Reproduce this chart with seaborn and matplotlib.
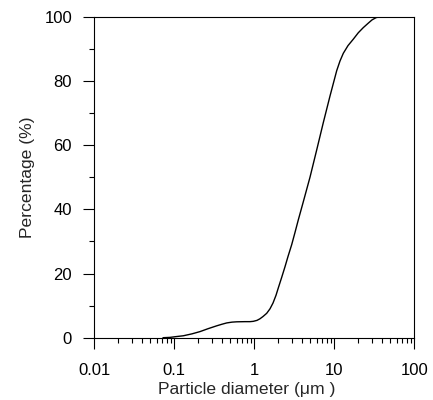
import matplotlib
matplotlib.use("Agg")
import matplotlib.pyplot as plt
import matplotlib.ticker as mticker
import seaborn as sns
import pandas as pd

diameter_um = [0.0722, 0.0884, 0.1020, 0.1296, 0.1664,
               0.2096, 0.2638, 0.3388, 0.3948, 0.4519,
               0.5263, 0.6026, 0.7650, 0.8837, 0.9716,
               1.081, 1.178, 1.285, 1.429, 1.571,
               1.713, 1.867, 1.995, 2.200, 2.419,
               2.638, 2.935, 3.227, 3.548, 4.062,
               4.969, 6.026, 7.286, 8.838, 10.72,
               11.78, 12.96, 14.84, 17.28, 19.95,
               23.04, 26.61, 29.60, 33.21, 37.26,
               46.91]
percentage = [0.0, 0.1, 0.3, 0.6, 1.2,
              1.9, 2.8, 3.7, 4.2, 4.6,
              4.85, 4.95, 5.0, 5.0, 5.1,
              5.4, 5.9, 6.6, 7.6, 9.0,
              10.8, 13.2, 15.5, 18.8, 22.1,
              25.3, 29.0, 32.8, 36.7, 42.0,
              50.0, 58.5, 67.0, 75.3, 83.2,
              86.2, 88.6, 91.0, 93.0, 95.0,
              96.6, 98.0, 99.0, 99.7, 100.0,
              100.0]

x_major_ticks = [0.01, 0.1, 1, 10, 100]
x_tick_labels = ["0.01", "0.1", "1", "10", "100"]
y_major_ticks = [0, 20, 40, 60, 80, 100]
y_minor_ticks = [10, 30, 50, 70, 90]

sns.set_style("ticks")
plt.rcParams["font.family"] = ["Liberation Sans", "DejaVu Sans"]

df = pd.DataFrame({"d": diameter_um, "p": percentage})

fig = plt.figure(figsize=(4.33, 4.00), dpi=100)
ax = fig.add_axes([94.3 / 433, 62.3 / 400, 320 / 433, 321 / 400])

sns.lineplot(data=df, x="d", y="p", ax=ax, color="black", linewidth=1.0,
             estimator=None, sort=False)

ax.set_xscale("log")
ax.set_xlim(0.01, 100)
ax.set_ylim(0, 100)
ax.set_xticks(x_major_ticks)
ax.set_xticklabels(x_tick_labels)
ax.xaxis.set_minor_locator(mticker.LogLocator(base=10, subs=range(2, 10), numticks=20))
ax.xaxis.set_minor_formatter(mticker.NullFormatter())
ax.set_yticks(y_major_ticks)
ax.set_yticks(y_minor_ticks, minor=True)

for s in ax.spines.values():
    s.set_visible(True)
    s.set_linewidth(0.8)
    s.set_color("black")

ax.tick_params(which="major", direction="out", length=8, width=0.8, labelsize=12,
               colors="black")
ax.tick_params(which="minor", direction="out", length=3.6, width=0.8, colors="black")
ax.tick_params(axis="x", which="major", pad=10)
ax.tick_params(axis="y", which="major", pad=8)
ax.tick_params(top=False, right=False, which="both")

ax.set_xlabel("Particle diameter (μm )", fontsize=12.6, labelpad=3, x=0.477)
ax.set_ylabel("Percentage (%)", fontsize=12.6, labelpad=7)

fig.savefig("out.png", dpi=100)
